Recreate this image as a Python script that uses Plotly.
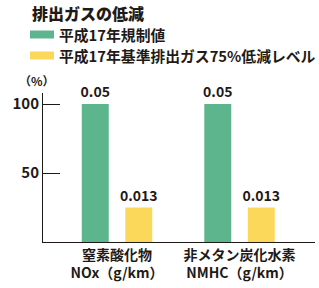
import plotly.graph_objects as go

categories = ["窒素酸化物<br>NOx（g/km）", "非メタン炭化水素<br>NMHC（g/km）"]
series_names = ["平成17年規制値", "平成17年基準排出ガス75%低減レベル"]
regulation_pct = [100, 100]
reduced_pct = [25, 25]
regulation_text = ["0.05", "0.05"]
reduced_text = ["0.013", "0.013"]
colors = ["#5db58e", "#fcd85a"]
y_ticks = [50, 100]

W, H = 319, 288
L, R, T, B = 43, 4, 93, 46
PW, PH = W - L - R, H - T - B
FONT = "Noto Sans CJK JP"
INK = "#1f1a17"

def px(x):
    return (x - L) / PW

def py(y):
    return (H - B - y) / PH

fig = go.Figure()
for vals, txt, col, name in [(regulation_pct, regulation_text, colors[0], series_names[0]),
                             (reduced_pct, reduced_text, colors[1], series_names[1])]:
    fig.add_trace(go.Bar(x=categories, y=vals, text=txt, name=name,
                         marker=dict(color=col, line=dict(width=0)),
                         textposition="outside", cliponaxis=False, constraintext="none",
                         textfont=dict(family=FONT, size=14, color=INK, weight=700)))

fig.update_layout(
    width=W, height=H, margin=dict(l=L, r=R, t=T, b=B, autoexpand=False),
    paper_bgcolor="white", plot_bgcolor="white",
    barmode="group", bargap=0.29, bargroupgap=0.38,
    showlegend=False,
    font=dict(family=FONT, color=INK),
    xaxis=dict(type="category", range=[-0.604, 1.616], showline=True, linecolor=INK,
               linewidth=1, ticks="", showgrid=False, automargin=False,
               tickfont=dict(family=FONT, size=14, color=INK, weight=700)),
    yaxis=dict(range=[0, 108], tickvals=y_ticks, ticks="inside", ticklen=17,
               tickcolor=INK, tickwidth=1, showline=True, linecolor=INK, linewidth=1,
               showgrid=False, zeroline=False, automargin=False,
               tickfont=dict(family=FONT, size=15, color=INK, weight=700)),
)

# title
fig.add_annotation(text="排出ガスの低減", xref="paper", yref="paper",
                   x=px(30), y=py(13.5), xanchor="left", yanchor="middle", showarrow=False,
                   font=dict(family=FONT, size=16, color=INK, weight=900))
# legend
for i, (name, col) in enumerate(zip(series_names, colors)):
    yc = 34.5 + i * 21
    fig.add_shape(type="rect", xref="paper", yref="paper",
                  x0=px(30), x1=px(54), y0=py(yc - 4), y1=py(yc + 4),
                  fillcolor=col, line=dict(width=0))
    fig.add_annotation(text=name, xref="paper", yref="paper",
                       x=px(57), y=py(yc), xanchor="left", yanchor="middle", showarrow=False,
                       font=dict(family=FONT, size=14.8, color=INK, weight=700))
# unit
fig.add_annotation(text="（%）", xref="paper", yref="paper",
                   x=px(37), y=py(81), xanchor="center", yanchor="middle", showarrow=False,
                   font=dict(family=FONT, size=12, color=INK, weight=700))

fig.write_html("out.html", config={"displayModeBar": False},
               post_script="document.body.style.margin='0';document.body.style.overflow='hidden';")
